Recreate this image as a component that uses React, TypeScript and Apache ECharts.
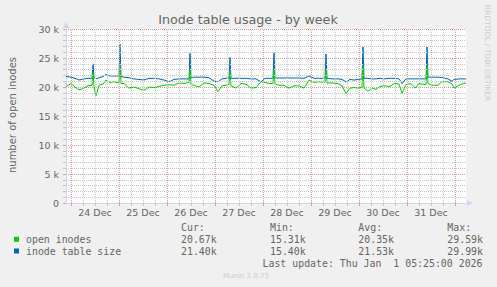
import React, { useEffect, useRef } from 'react';
import * as echarts from 'echarts';

// hours since the left edge of the graph (Dec 23 21:30)
const HOURS = [
  0, 2.5, 4.5, 6.5, 9, 11, 13, 13.5, 14, 15, 16.5, 18.5, 20, 22, 24, 26.5, 27, 27.5, 29, 31.5,
  34, 36.5, 39, 41.5, 44, 46.5, 49, 51.5, 54, 56.5, 59, 61.5, 62, 62.5, 64, 66.5, 69, 71.5, 74, 76,
  78, 80, 81.5, 82, 82.5, 85, 87.5, 90, 92.5, 95, 97.5, 99.5, 101.5, 103.5, 104, 104.5, 106.5, 109, 111.5, 114,
  116.5, 119, 121.5, 124, 126.5, 129.5, 130, 130.5, 133, 136, 138, 140, 142, 144, 146, 148, 148.5, 149, 151, 153,
  155, 157, 159, 162, 164, 166.5, 168, 170, 172.5, 174.5, 176.5, 180, 180.5, 181, 183, 186, 188, 191, 193, 194,
  197, 200,
];
// inode table size (k)
const TABLE_SIZE = [
  21.8, 21.7, 21.5, 21.2, 21.4, 21.5, 21.5, 24.0, 21.6, 21.4, 21.6, 21.8, 22.2, 21.9, 21.9, 21.9, 27.4, 21.8, 21.7, 21.6,
  21.4, 21.3, 21.2, 21.5, 21.5, 21.4, 21.2, 20.9, 21.3, 21.4, 21.4, 21.4, 25.8, 21.6, 21.7, 21.7, 21.7, 21.6, 21.0, 20.9,
  21.4, 21.5, 21.5, 25.1, 21.5, 21.5, 21.5, 21.5, 21.4, 21.4, 20.9, 21.5, 21.5, 21.5, 25.9, 21.55, 21.55, 21.55, 21.55, 21.55,
  21.55, 21.5, 21.9, 21.5, 21.5, 21.5, 25.7, 21.5, 21.4, 21.4, 21.3, 20.9, 21.3, 21.2, 21.3, 21.4, 26.9, 21.5, 21.5, 21.4,
  21.4, 21.5, 21.4, 21.5, 21.5, 21.4, 20.6, 21.4, 21.4, 21.4, 21.4, 21.4, 26.9, 21.7, 21.7, 21.7, 21.6, 21.4, 21.0, 21.3,
  21.4, 21.4,
];
// open inodes (k)
const OPEN_INODES = [
  20.05, 20.6, 20.0, 19.5, 19.8, 20.2, 20.3, 22.5, 20.0, 18.5, 20.3, 20.5, 21.2, 20.8, 20.9, 20.7, 23.4, 20.6, 20.6, 19.8,
  20.0, 19.7, 19.4, 20.0, 19.9, 20.1, 20.3, 20.4, 20.3, 20.7, 20.6, 20.8, 23.0, 20.4, 20.3, 20.0, 20.7, 20.6, 20.3, 19.2,
  20.2, 20.3, 20.5, 22.5, 20.2, 19.8, 20.6, 20.5, 19.8, 19.9, 20.9, 20.8, 20.6, 20.6, 23.0, 20.5, 20.3, 20.3, 19.8, 20.2,
  20.2, 19.8, 21.2, 20.8, 20.9, 20.8, 23.0, 20.7, 20.7, 20.6, 20.2, 18.9, 19.8, 19.9, 19.8, 20.0, 23.5, 19.8, 19.3, 19.8,
  19.6, 20.1, 20.2, 20.1, 20.6, 20.5, 18.9, 20.4, 20.6, 19.8, 20.6, 20.4, 23.5, 20.6, 20.3, 20.3, 20.9, 20.9, 20.5, 19.8,
  20.4, 20.7,
];

const DAY_LABELS = ['24 Dec', '25 Dec', '26 Dec', '27 Dec', '28 Dec', '29 Dec', '30 Dec', '31 Dec'];
const FIRST_MIDNIGHT = 2.5; // Dec 24 00:00 in hours since the left edge
const RANGE_HOURS = 200;
const Y_MAX = 30;
const Y_STEP = 5;
const Y_MINOR_STEP = 1;

const SERIES_NAMES = ['open inodes', 'inode table size'];
const STAT_HEADERS = ['Cur:', 'Min:', 'Avg:', 'Max:'];
const OPEN_STATS = ['20.67k', '15.31k', '20.35k', '29.59k'];
const TABLE_STATS = ['21.40k', '15.40k', '21.53k', '29.99k'];
const TITLE = 'Inode table usage - by week';
const Y_NAME = 'number of open inodes';
const LAST_UPDATE = 'Last update: Thu Jan  1 05:25:00 2026';
const SIDE_TEXT = 'RRDTOOL / TOBI OETIKER';
const FOOTER = 'Munin 2.0.73';

const GREEN = '#00cc00';
const BLUE = '#0066b3';
const FONT_COLOR = '#666666';
const AXIS_COLOR = '#cfd6f8';
const MGRID = '#e39c9c';
const GRID = '#c8c8c8';

export default function App() {
  const ref = useRef<HTMLDivElement>(null);
  useEffect(() => {
    const chart = echarts.init(ref.current!, null, { renderer: 'svg' });
    const sans = 'DejaVu Sans';
    const mono = 'DejaVu Sans Mono';

    const sixHour: number[] = [];
    const midnights: number[] = [];
    for (let h = FIRST_MIDNIGHT, k = 0; h <= RANGE_HOURS; h += 6, k++) {
      if (k % 4 === 0) midnights.push(h);
      else sixHour.push(h);
    }
    const noons = DAY_LABELS.map((_, i) => FIRST_MIDNIGHT + 12 + 24 * i);
    const yMinor: number[] = [];
    for (let v = Y_MINOR_STEP; v < Y_MAX; v += Y_MINOR_STEP) {
      if (v % Y_STEP !== 0) yMinor.push(v);
    }

    const statCols = [181, 270, 358.3, 447.3];
    const rowY = [227.7, 239.3, 251];
    const graphics: any[] = [];
    graphics.push({
      type: 'text', x: 248, y: 19,
      style: { text: TITLE, font: `12.7px "${sans}"`, fill: FONT_COLOR, textAlign: 'center', textVerticalAlign: 'middle' },
    });
    graphics.push({
      type: 'text', x: 12, y: 115, rotation: Math.PI / 2,
      style: { text: Y_NAME, font: `10px "${sans}"`, fill: FONT_COLOR, textAlign: 'center', textVerticalAlign: 'middle' },
    });
    graphics.push({
      type: 'text', x: 487, y: 53, rotation: -Math.PI / 2,
      style: { text: SIDE_TEXT, font: `7.5px "${sans}"`, fill: '#cccccc', textAlign: 'center', textVerticalAlign: 'middle' },
    });
    STAT_HEADERS.forEach((t, i) => {
      graphics.push({
        type: 'text', x: statCols[i], y: rowY[0],
        style: { text: t, font: `9.9px "${mono}"`, fill: FONT_COLOR, textAlign: 'left', textVerticalAlign: 'middle' },
      });
    });
    [OPEN_STATS, TABLE_STATS].forEach((row, r) => {
      graphics.push({
        type: 'rect', shape: { x: 14, y: rowY[r + 1] - 2.5, width: 5, height: 5 },
        style: { fill: r === 0 ? GREEN : BLUE },
      });
      graphics.push({
        type: 'text', x: 26, y: rowY[r + 1],
        style: { text: SERIES_NAMES[r], font: `9.9px "${mono}"`, fill: FONT_COLOR, textAlign: 'left', textVerticalAlign: 'middle' },
      });
      row.forEach((t, i) => {
        graphics.push({
          type: 'text', x: statCols[i], y: rowY[r + 1],
          style: { text: t, font: `9.9px "${mono}"`, fill: FONT_COLOR, textAlign: 'left', textVerticalAlign: 'middle' },
        });
      });
    });
    graphics.push({
      type: 'text', x: 482.5, y: 263.3,
      style: { text: LAST_UPDATE, font: `9.9px "${mono}"`, fill: FONT_COLOR, textAlign: 'right', textVerticalAlign: 'middle' },
    });
    graphics.push({
      type: 'text', x: 223, y: 276,
      style: { text: FOOTER, font: `7px "${sans}"`, fill: '#cccccc', textAlign: 'left', textVerticalAlign: 'middle' },
    });

    const minorStyle = { color: GRID, type: [1, 1], width: 1 };
    const majorStyle = { color: MGRID, type: [1, 1], width: 1 };
    const gridLines = [
      ...sixHour.map((h) => ({ xAxis: h, lineStyle: minorStyle })),
      ...yMinor.map((v) => ({ yAxis: v, lineStyle: minorStyle })),
      ...midnights.map((h) => ({ xAxis: h, lineStyle: majorStyle })),
    ];

    chart.setOption({
      animation: false,
      backgroundColor: '#f0f0f0',
      grid: { left: 66, top: 29, width: 400, height: 174, show: true, backgroundColor: '#ffffff', borderWidth: 0 },
      xAxis: [
        {
          type: 'value', min: 0, max: RANGE_HOURS,
          axisLine: { show: true, lineStyle: { color: AXIS_COLOR, width: 1 }, symbol: ['none', 'triangle'], symbolSize: [6, 6], symbolOffset: [0, 4] },
          axisTick: { show: true, length: 3, customValues: sixHour, lineStyle: { color: GRID } },
          axisLabel: {
            show: true, customValues: noons, color: FONT_COLOR, fontFamily: sans, fontSize: 9.5, margin: 4,
            formatter: (v: number) => DAY_LABELS[Math.round((v - FIRST_MIDNIGHT - 12) / 24)] ?? '',
          },
          splitLine: { show: false },
        },
        {
          type: 'value', min: 0, max: RANGE_HOURS, position: 'bottom',
          axisLine: { show: false },
          axisTick: { show: true, length: 3, customValues: midnights, lineStyle: { color: MGRID } },
          axisLabel: { show: false },
          splitLine: { show: false },
        },
      ],
      yAxis: {
        type: 'value', min: 0, max: Y_MAX, interval: Y_STEP,
        axisLine: { show: true, lineStyle: { color: AXIS_COLOR, width: 1 }, symbol: ['none', 'triangle'], symbolSize: [6, 6], symbolOffset: [0, 4] },
        axisTick: { show: true, length: 3, lineStyle: { color: MGRID } },
        minorTick: { show: true, splitNumber: 5, length: 3, lineStyle: { color: GRID } },
        axisLabel: {
          color: FONT_COLOR, fontFamily: sans, fontSize: 9.5, margin: 7,
          formatter: (v: number) => (v === 0 ? '0' : `${v} k`),
        },
        splitLine: { show: true, lineStyle: majorStyle },
        minorSplitLine: { show: false },
      },
      series: [
        {
          name: 'grid', type: 'line', xAxisIndex: 0, data: [], silent: true, z: 1,
          markLine: { silent: true, symbol: ['none', 'none'], label: { show: false }, animation: false, data: gridLines },
        },
        {
          name: SERIES_NAMES[1], type: 'line', xAxisIndex: 0, showSymbol: false, symbol: 'none', z: 3,
          lineStyle: { color: BLUE, width: 1 }, itemStyle: { color: BLUE },
          data: HOURS.map((h, i) => [h, TABLE_SIZE[i]]),
        },
        {
          name: SERIES_NAMES[0], type: 'line', xAxisIndex: 0, showSymbol: false, symbol: 'none', z: 4,
          lineStyle: { color: GREEN, width: 1 }, itemStyle: { color: GREEN },
          data: HOURS.map((h, i) => [h, OPEN_INODES[i]]),
        },
      ],
      graphic: graphics,
    });
    return () => chart.dispose();
  }, []);
  return <div ref={ref} style={{ position: 'fixed', left: 0, top: 0, width: 497, height: 287 }} />;
}
